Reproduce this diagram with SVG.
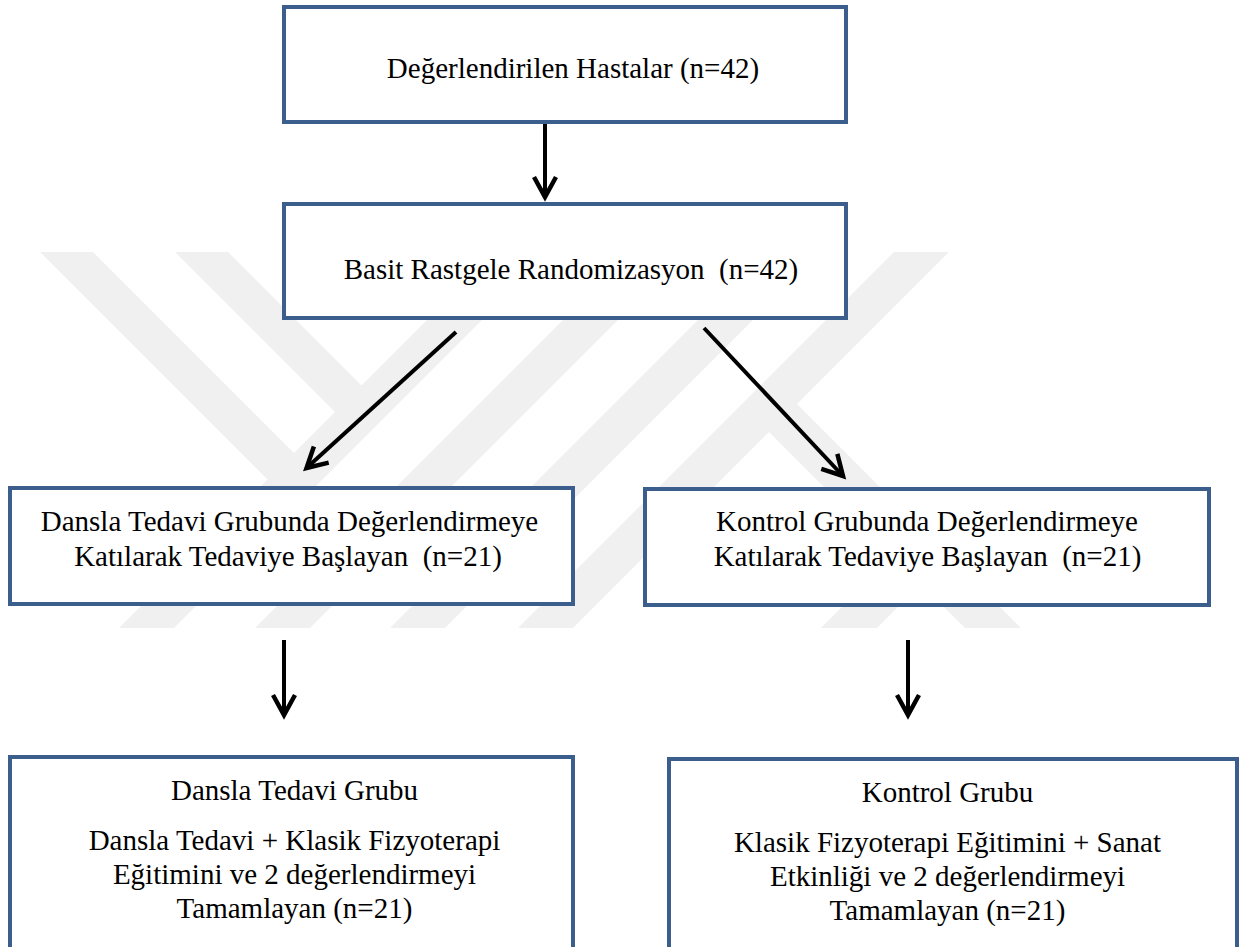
<svg xmlns="http://www.w3.org/2000/svg" width="1244" height="947" viewBox="0 0 1244 947">
  <style>
    .box { fill: #ffffff; stroke: #3b5e8c; stroke-width: 4; }
    .lbl { font-family: "Liberation Serif", "Times New Roman", serif; font-size: 29px; fill: #000000; text-anchor: middle; }
    .wm { fill: #f0f0f0; stroke: none; }
    .arr { fill: none; stroke: #000000; stroke-width: 4; marker-end: url(#ah); }
  </style>
  <defs>
    <marker id="ah" markerUnits="userSpaceOnUse" viewBox="-26 -16 32 32" refX="0" refY="0" markerWidth="32" markerHeight="32" orient="auto" overflow="visible">
      <path d="M-20,-11 L0,0 L-20,11" fill="none" stroke="#000000" stroke-width="4.5" stroke-linejoin="miter"/>
    </marker>
  </defs>
  <rect x="0" y="0" width="1244" height="947" fill="#ffffff"/>

  <g id="watermark">
    <polygon class="wm" points="40,252 93,252 308,467 281.5,493.5"/>
    <polygon class="wm" points="175,252 228,252 375.5,399.5 349,426"/>
    <polygon class="wm" points="495,252 550,252 174,628 119,628"/>
    <polygon class="wm" points="631,252 686,252 310,628 255,628"/>
    <polygon class="wm" points="766,252 821,252 445,628 390,628"/>
    <polygon class="wm" points="894,252 949,252 573,628 518,628"/>
    <polygon class="wm" points="755.5,418.5 783.5,390.5 1021,628 965,628"/>
    <polygon class="wm" points="907,542 935,570 877,628 821,628"/>
  </g>

  <g id="connectors">
    <path class="arr" d="M545,124 L545,197"/>
    <path class="arr" d="M456,332 L306.5,468"/>
    <path class="arr" d="M704,328 L843,476"/>
    <path class="arr" d="M284,640 L284,715"/>
    <path class="arr" d="M908,640 L908,715"/>
  </g>

  <g id="n1">
    <rect class="box" x="284" y="7" width="562" height="115"/>
    <text class="lbl" x="573" y="78" xml:space="preserve">Değerlendirilen Hastalar (n=42)</text>
  </g>
  <g id="n2">
    <rect class="box" x="284" y="204" width="562" height="114"/>
    <text class="lbl" x="571" y="279" xml:space="preserve">Basit Rastgele Randomizasyon  (n=42)</text>
  </g>
  <g id="n3">
    <rect class="box" x="10" y="488" width="563" height="116"/>
    <text class="lbl" x="289.5" y="531" xml:space="preserve">Dansla Tedavi Grubunda Değerlendirmeye</text>
    <text class="lbl" x="288" y="566" xml:space="preserve">Katılarak Tedaviye Başlayan  (n=21)</text>
  </g>
  <g id="n4">
    <rect class="box" x="645" y="489" width="564" height="116"/>
    <text class="lbl" x="927" y="531" xml:space="preserve">Kontrol Grubunda Değerlendirmeye</text>
    <text class="lbl" x="927.5" y="566" xml:space="preserve">Katılarak Tedaviye Başlayan  (n=21)</text>
  </g>
  <g id="n5">
    <rect class="box" x="10" y="757" width="563" height="210"/>
    <text class="lbl" x="294.5" y="800">Dansla Tedavi Grubu</text>
    <text class="lbl" x="294.5" y="850">Dansla Tedavi + Klasik Fizyoterapi</text>
    <text class="lbl" x="294.5" y="884">Eğitimini ve 2 değerlendirmeyi</text>
    <text class="lbl" x="294.5" y="918">Tamamlayan (n=21)</text>
  </g>
  <g id="n6">
    <rect class="box" x="669" y="759" width="568" height="210"/>
    <text class="lbl" x="947.5" y="802">Kontrol Grubu</text>
    <text class="lbl" x="947.5" y="852">Klasik Fizyoterapi Eğitimini + Sanat</text>
    <text class="lbl" x="947.5" y="886">Etkinliği ve 2 değerlendirmeyi</text>
    <text class="lbl" x="947.5" y="920">Tamamlayan (n=21)</text>
  </g>
</svg>
